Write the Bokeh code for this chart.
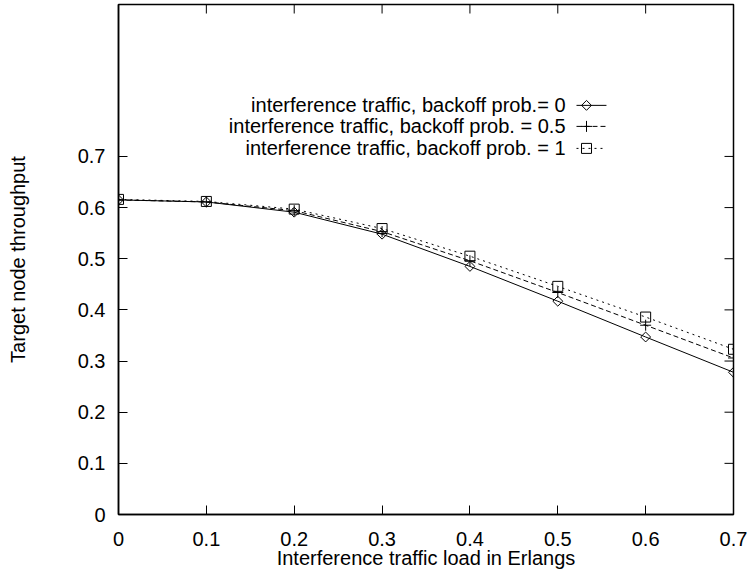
from bokeh.plotting import figure
from bokeh.models import FixedTicker, Range1d
from bokeh.core.properties import value
from bokeh.embed import file_html
from bokeh.resources import INLINE
import numpy as np

# ---- data ----
load = [0.0, 0.1, 0.2, 0.3, 0.4, 0.5, 0.6, 0.7]
thr_p0 = [0.615, 0.611, 0.591, 0.548, 0.485, 0.417, 0.347, 0.278]
thr_p05 = [0.615, 0.611, 0.594, 0.553, 0.496, 0.434, 0.370, 0.306]
thr_p1 = [0.616, 0.612, 0.597, 0.559, 0.505, 0.446, 0.386, 0.323]
legend_labels = ["interference traffic, backoff prob.= 0",
                 "interference traffic, backoff prob. = 0.5",
                 "interference traffic, backoff prob. = 1"]
x_ticks = [0, 0.1, 0.2, 0.3, 0.4, 0.5, 0.6, 0.7]
y_ticks = [0, 0.1, 0.2, 0.3, 0.4, 0.5, 0.6, 0.7]

FONT = "Liberation Sans"
FS = "20px"
X_MAX, Y_MAX = 0.7, 0.997

W, H = 747, 571
p = figure(width=W, height=H, output_backend="svg", toolbar_location=None,
           title=None,
           x_range=Range1d(0, X_MAX), y_range=Range1d(0, Y_MAX),
           min_border_left=118, min_border_right=14, min_border_top=4,
           min_border_bottom=57, x_axis_label="Interference traffic load in Erlangs",
           y_axis_label="Target node throughput")
p.grid.visible = False
p.outline_line_color = "black"
p.outline_line_width = 1.5
p.background_fill_color = "white"
p.border_fill_color = "white"

for ax in (p.xaxis[0], p.yaxis[0]):
    ax.major_tick_in = 9
    ax.major_tick_out = 0
    ax.minor_tick_in = 0
    ax.minor_tick_out = 0
    ax.axis_line_color = "black"
    ax.axis_line_width = 1.5
    ax.major_tick_line_width = 1
    ax.major_label_text_font = FONT
    ax.major_label_text_font_size = FS
    ax.major_label_text_color = "black"
    ax.axis_label_text_font = FONT
    ax.axis_label_text_font_size = FS
    ax.axis_label_text_font_style = "normal"
    ax.axis_label_text_color = "black"

p.xaxis[0].ticker = FixedTicker(ticks=x_ticks)
p.yaxis[0].ticker = FixedTicker(ticks=y_ticks)
p.xaxis[0].major_label_standoff = 17
p.xaxis[0].axis_label_standoff = -2
p.yaxis[0].major_label_standoff = 13
p.yaxis[0].axis_label_standoff = 46

# mirrored ticks on top and right edges (gnuplot style)
tx = X_MAX * 9 / 615.0
ty = 9 / 511.4
p.segment(x0=x_ticks, y0=[Y_MAX] * len(x_ticks), x1=x_ticks,
          y1=[Y_MAX - ty] * len(x_ticks), line_color="black", line_width=1)
p.segment(x0=[X_MAX] * len(y_ticks), y0=y_ticks, x1=[X_MAX - tx] * len(y_ticks),
          y1=y_ticks, line_color="black", line_width=1)

# series
p.line(load, thr_p0, line_color="black", line_width=1)
p.scatter(load, thr_p0, marker="square", angle=np.pi / 4, size=7,
          fill_color=None, line_color="black", line_width=1)

p.line(load, thr_p05, line_color="black", line_width=1, line_dash="5 3")
p.scatter(load, thr_p05, marker="cross", size=11, line_color="black", line_width=1)

p.line(load, thr_p1, line_color="black", line_width=1, line_dash="2 4")
p.scatter(load, thr_p1, marker="square", size=10,
          fill_color=None, line_color="black", line_width=1)

# key (gnuplot style: text then sample)
key_text_x = 0.5088
key_line = [0.5213, 0.5554]
key_mark_x = 0.5327
key_y = [0.7998, 0.7587, 0.7157]
dashes = ["solid", "5 3", "2 4"]
p.text(x=[key_text_x] * 3, y=key_y, text=legend_labels, text_align="right",
       text_baseline="middle", text_font=value(FONT), text_font_size=FS,
       text_color="black")
for yy, d in zip(key_y, dashes):
    p.line(key_line, [yy, yy], line_color="black", line_width=1, line_dash=d)
p.scatter([key_mark_x], [key_y[0]], marker="square", angle=np.pi / 4, size=7,
          fill_color=None, line_color="black")
p.scatter([key_mark_x], [key_y[1]], marker="cross", size=11, line_color="black")
p.scatter([key_mark_x], [key_y[2]], marker="square", size=10,
          fill_color=None, line_color="black")

open("out.html", "w").write(file_html(p, INLINE))
